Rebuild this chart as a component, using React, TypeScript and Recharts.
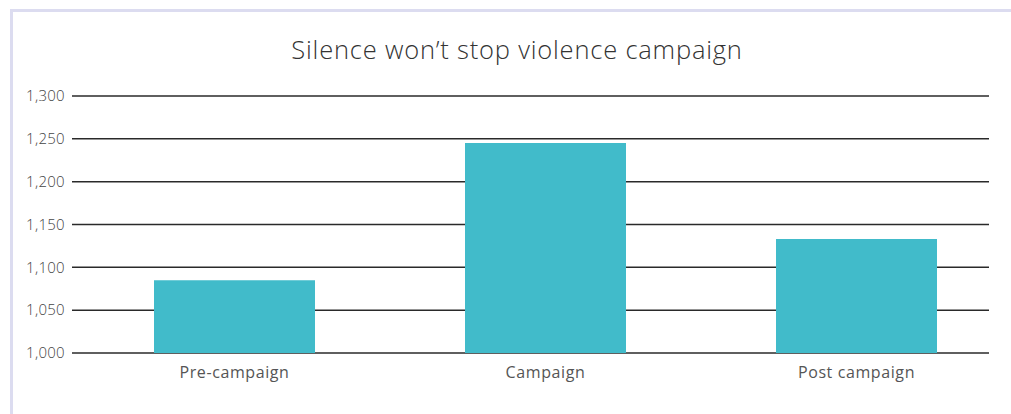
import React from "react";
import { BarChart, Bar, XAxis, YAxis, CartesianGrid } from "recharts";

const categories = ["Pre-campaign", "Campaign", "Post campaign"];
const values = [1085, 1245, 1133];
const yTicks = [1000, 1050, 1100, 1150, 1200, 1250, 1300];
const title = "Silence won\u2019t stop violence campaign";

const data = categories.map((c, i) => ({ name: c, value: values[i] }));

const FONT = "'Open Sans', 'DejaVu Sans', sans-serif";

export default function App() {
  return (
    <div style={{ position: "absolute", left: 0, top: 0, width: 1011, height: 414, background: "#fff", overflow: "hidden" }}>
      <div
        style={{
          position: "absolute",
          left: 10,
          top: 9,
          width: 1020,
          height: 420,
          borderLeft: "3px solid #dcdcf0",
          borderTop: "3px solid #dcdcf0",
          boxSizing: "border-box",
        }}
      />
      <div
        style={{
          position: "absolute",
          left: 0,
          top: 33,
          width: 1034,
          textAlign: "center",
          fontFamily: FONT,
          fontWeight: 300,
          fontSize: 25.5,
          letterSpacing: 0.8,
          color: "#333",
          lineHeight: "32px",
        }}
      >
        {title}
      </div>
      <div style={{ position: "absolute", left: 0, top: 0 }}>
        <BarChart
          width={1011}
          height={414}
          data={data}
          margin={{ top: 96, right: 22, bottom: 31, left: 0 }}
          barSize={161}
        >
          <CartesianGrid vertical={false} stroke="#2a2a2a" strokeWidth={1.5} />
          <XAxis
            dataKey="name"
            axisLine={false}
            tickLine={false}
            tickSize={0}
            tickMargin={14}
            padding={{ left: 7, right: -23 }}
            tick={{ fill: "#555", fontSize: 16, letterSpacing: 0.6, fontFamily: FONT, fontWeight: 400 }}
          />
          <YAxis
            width={72}
            domain={[1000, 1300]}
            ticks={yTicks}
            axisLine={false}
            tickLine={false}
            tickSize={0}
            tickMargin={7}
            allowDataOverflow
            tickFormatter={(v: number) => v.toLocaleString("en-US")}
            tick={{ fill: "#444", fontSize: 15, letterSpacing: 0.3, fontFamily: FONT, fontWeight: 300 }}
          />
          <Bar dataKey="value" fill="#41bbca" isAnimationActive={false} />
        </BarChart>
      </div>
    </div>
  );
}
